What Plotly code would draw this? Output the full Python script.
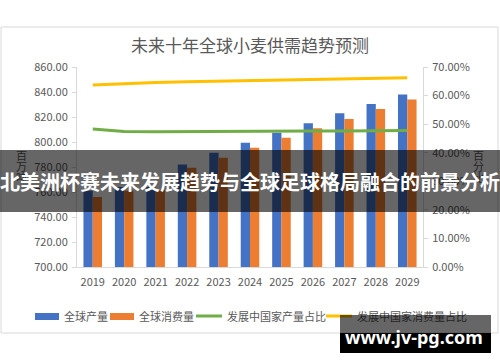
import plotly.graph_objects as go

# ---------------- data ----------------
years = ["2019", "2020", "2021", "2022", "2023", "2024", "2025", "2026", "2027", "2028", "2029"]
production = [761, 764, 764, 782, 791.5, 799.5, 807.5, 815, 823, 830.5, 838]
consumption = [756, 761, 762, 779.5, 787.5, 795.5, 803.5, 811, 818.5, 826.5, 834]
dev_prod_share = [0.483, 0.474, 0.473, 0.474, 0.475, 0.475, 0.475, 0.476, 0.476, 0.477, 0.478]
dev_cons_share = [0.637, 0.642, 0.646, 0.648, 0.650, 0.653, 0.655, 0.656, 0.658, 0.660, 0.662]

series_names = ["全球产量", "全球消费量", "发展中国家产量占比", "发展中国家消费量占比"]
title_text = "未来十年全球小麦供需趋势预测"
banner_text = "北美洲杯赛未来发展趋势与全球足球格局融合的前景分析"
watermark_text = "www.jv-pg.com"

# ---------------- geometry helpers ----------------
W, H = 500, 362
L, R, T, B = 77, 77, 67, 95
PW, PH = W - L - R, H - T - B


def px(X):
    return (X - L) / PW


def py(Y):
    return (H - B - Y) / PH


FONT = "Noto Sans CJK SC, Noto Sans, sans-serif"
GRAY = "#595959"
AX = "#d9d9d9"
BLUE, ORANGE, GREEN, YELLOW = "#4472C4", "#ED7D31", "#70AD47", "#FFC000"

fig = go.Figure()
fig.add_trace(go.Bar(x=years, y=production, name=series_names[0], marker_color=BLUE,
                     marker_line_width=0, yaxis="y"))
fig.add_trace(go.Bar(x=years, y=consumption, name=series_names[1], marker_color=ORANGE,
                     marker_line_width=0, yaxis="y"))
fig.add_trace(go.Scatter(x=years, y=dev_prod_share, name=series_names[2], mode="lines",
                         line=dict(color=GREEN, width=3), yaxis="y2"))
fig.add_trace(go.Scatter(x=years, y=dev_cons_share, name=series_names[3], mode="lines",
                         line=dict(color=YELLOW, width=3), yaxis="y2"))

shapes = []
annotations = []

# chart frame
shapes.append(dict(type="rect", xref="paper", yref="paper", x0=px(1), x1=px(498), y0=py(27), y1=py(333),
                   line=dict(color=AX, width=1), fillcolor="rgba(0,0,0,0)", layer="below"))

# axis titles (stacked characters)
for i, ch in enumerate("百万吨"):
    annotations.append(dict(text=ch, xref="paper", yref="paper", x=px(21), y=py(155 + 11 * i),
                            xanchor="center", yanchor="middle", showarrow=False,
                            font=dict(family=FONT, size=11, color=GRAY)))
for i, ch in enumerate("百分比"):
    annotations.append(dict(text=ch, xref="paper", yref="paper", x=px(478), y=py(155 + 11 * i),
                            xanchor="center", yanchor="middle", showarrow=False,
                            font=dict(family=FONT, size=11, color=GRAY)))

# custom legend
LY = 316
shapes.append(dict(type="rect", xref="paper", yref="paper", x0=px(35), x1=px(59), y0=py(313), y1=py(320),
                   fillcolor=BLUE, line=dict(width=0), layer="above"))
shapes.append(dict(type="rect", xref="paper", yref="paper", x0=px(110), x1=px(134), y0=py(313), y1=py(320),
                   fillcolor=ORANGE, line=dict(width=0), layer="above"))
shapes.append(dict(type="line", xref="paper", yref="paper", x0=px(196), x1=px(222), y0=py(LY), y1=py(LY),
                   line=dict(color=GREEN, width=3), layer="above"))
shapes.append(dict(type="line", xref="paper", yref="paper", x0=px(326), x1=px(352), y0=py(LY), y1=py(LY),
                   line=dict(color=YELLOW, width=3), layer="above"))
for X, name in zip([62, 137, 225, 355], series_names):
    annotations.append(dict(text=name, xref="paper", yref="paper", x=px(X), y=py(LY),
                            xanchor="left", yanchor="middle", showarrow=False,
                            font=dict(family=FONT, size=11, color=GRAY)))

# banner overlay
annotations.append(dict(text="<b>" + banner_text + "</b>", xref="paper", yref="paper",
                        x=px(0), y=py(150), xanchor="left", yanchor="top",
                        width=500, height=62, align="center", valign="middle",
                        bgcolor="rgba(0,0,0,0.6)", borderpad=0, borderwidth=0, showarrow=False,
                        font=dict(family=FONT, size=20, color="white")))

# watermark
annotations.append(dict(text=" ", xref="paper", yref="paper", x=px(340), y=py(315),
                        xanchor="left", yanchor="top", width=151, height=18,
                        bgcolor="rgba(0,0,0,0.6)", borderpad=0, borderwidth=0, showarrow=False,
                        font=dict(family=FONT, size=10, color="white")))
annotations.append(dict(text=" ", xref="paper", yref="paper", x=px(340), y=py(333),
                        xanchor="left", yanchor="top", width=151, height=20,
                        bgcolor="black", borderpad=0, borderwidth=0, showarrow=False,
                        font=dict(family=FONT, size=10, color="white")))
annotations.append(dict(text="<b>" + watermark_text + "</b>", xref="paper", yref="paper",
                        x=px(414), y=py(337), xanchor="center", yanchor="middle", showarrow=False,
                        font=dict(family="Noto Sans, sans-serif", size=18, color="white")))

fig.update_layout(
    width=W, height=H,
    margin=dict(l=L, r=R, t=T, b=B, pad=0),
    paper_bgcolor="white", plot_bgcolor="white",
    showlegend=False,
    barmode="group", bargap=0.41, bargroupgap=0,
    title=dict(text=title_text, x=0.5, xref="container", xanchor="center",
               y=1 - 46 / H, yref="container", yanchor="middle",
               font=dict(family=FONT, size=17, color=GRAY)),
    xaxis=dict(type="category", showline=True, linecolor=AX, linewidth=1, ticks="",
               showgrid=False, tickfont=dict(family=FONT, size=11, color=GRAY), ticklabelstandoff=5),
    yaxis=dict(range=[700, 860], dtick=20, tickformat=".2f", showgrid=False, zeroline=False,
               showline=True, linecolor=AX, linewidth=1, ticks="outside", ticklen=4, tickcolor=AX,
               tickfont=dict(family=FONT, size=11, color=GRAY), ticklabelstandoff=2),
    yaxis2=dict(range=[0, 0.7], dtick=0.1, tickformat=".2%", overlaying="y", side="right",
                showgrid=False, zeroline=False, showline=True, linecolor=AX, linewidth=1,
                ticks="outside", ticklen=4, tickcolor=AX,
                tickfont=dict(family=FONT, size=11, color=GRAY), ticklabelstandoff=2),
    shapes=shapes,
    annotations=annotations,
)

fig.write_html("out.html", config={"displayModeBar": False},
               post_script="document.body.style.margin='0';")
